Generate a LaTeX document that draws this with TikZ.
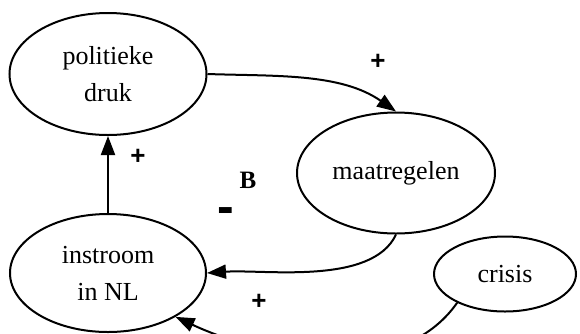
\documentclass[tikz,border=0pt]{standalone}
\usepackage{fontspec}
\setmainfont{Liberation Serif}
\newfontfamily\signfont{Liberation Sans}
\usepackage{tikz}
\usetikzlibrary{arrows.meta, shapes.geometric, positioning}

\tikzset{
  var/.style={ellipse, draw, line width=2pt, inner sep=0pt, align=center,
    font=\fontsize{26}{37}\selectfont},
  link/.style={line width=2pt, -{Triangle[length=19pt,width=14pt]}},
  sign/.style={font=\signfont\bfseries\fontsize{26}{26}\selectfont},
}

\begin{document}
\begin{tikzpicture}[x=1pt,y=-1pt]
    \useasboundingbox (0,0) rectangle (580,333);

    % variables
    \node[var, minimum width=197pt, minimum height=122pt] (druk) at (108,74) {politieke\\druk};
    \node[var, minimum width=198pt, minimum height=121pt] (maatr) at (396,173) {maatregelen};
    \node[var, minimum width=196pt, minimum height=118pt] (instr) at (108,273) {instroom\\in NL};
    \node[var, minimum width=142pt, minimum height=75pt] (crisis) at (505,274) {crisis};

    % causal links
    \draw[link] (druk.east) to[out=-2,in=145,looseness=0.9] (maatr.north);
    \draw[link] (maatr.south) to[out=-115,in=4,looseness=0.75] (instr.east);
    \draw[link] (instr.north) -- (druk.south);
    \draw[link] (crisis.-149) to[out=-125,in=-25,looseness=0.9] (instr.-33);

    % polarities and loop type
    \node[sign] (s1) at (378,62) {+};
    \node[sign] (s2) at (138,157) {+};
    \node[sign] (s3) at (259,302) {+};
    \node[sign, font=\signfont\bfseries\fontsize{50}{50}\selectfont] (s4) at (226,216) {-};
    \node[font=\bfseries\fontsize{25}{25}\selectfont] (loop) at (248,180) {B};
\end{tikzpicture}
\end{document}
